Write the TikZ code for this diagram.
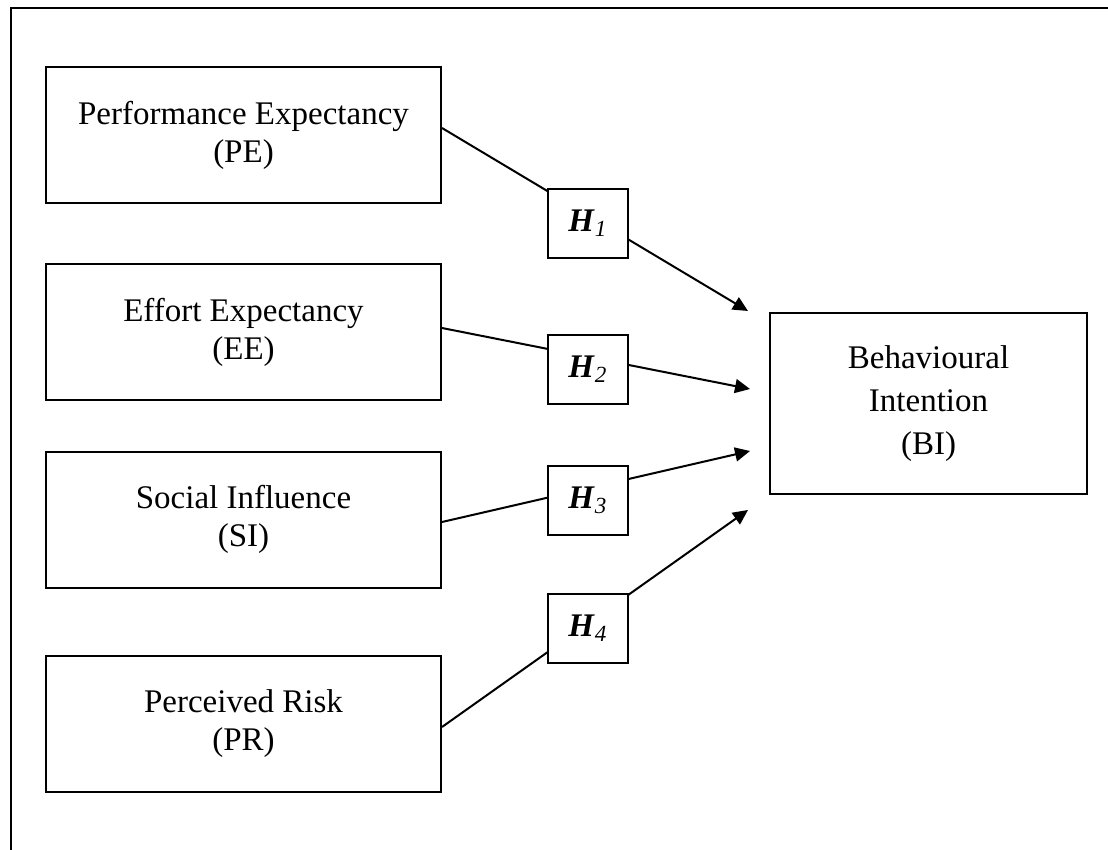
\documentclass[tikz,border=0pt]{standalone}
\usepackage{fontspec}
\setmainfont{Liberation Serif}
\usetikzlibrary{arrows.meta}

\begin{document}
\begin{tikzpicture}[
            x=0.5pt, y=-0.5pt,
            construct/.style={draw=black, line width=1pt, inner sep=0pt, align=center,
                minimum width=197.5pt, minimum height=68pt, font=\fontsize{16.5}{19}\selectfont},
            hyp/.style={draw=black, fill=white, line width=1pt, inner sep=0pt,
                minimum width=40pt, minimum height=34.5pt, font=\fontsize{16.5}{19}\selectfont},
            link/.style={line width=1pt, -{Triangle[length=7.5pt, width=7pt]}},
        ]
            \useasboundingbox (0,0) rectangle (1108,850);

            % page frame (only top and left edges show)
            \draw[line width=1.2pt] (11,850) -- (11,8) -- (1108,8);

            % the four constructs and the outcome
            \node[construct] (pe) at (243.5,135)   {Performance Expectancy\\(PE)};
            \node[construct] (ee) at (243.5,332)   {Effort Expectancy\\(EE)};
            \node[construct] (si) at (243.5,519.5) {Social Influence\\(SI)};
            \node[construct] (pr) at (243.5,723.5) {Perceived Risk\\(PR)};
            \node[construct, minimum width=158.5pt, minimum height=90.5pt,
                font=\fontsize{16.5}{21.5}\selectfont] (bi) at (928.5,403.5)
                {Behavioural\\Intention\\(BI)};

            % arrow tips in front of BI
            \coordinate (t1) at (748,311);
            \coordinate (t2) at (750,389);
            \coordinate (t3) at (750,451);
            \coordinate (t4) at (748,510);

            \draw[link] ([yshift=3.5pt]pe.east) -- (t1);
            \draw[link] ([yshift=2pt]ee.east)   -- (t2);
            \draw[link] ([yshift=-1.25pt]si.east) -- (t3);
            \draw[link] ([yshift=-1.75pt]pr.east) -- (t4);

            % hypothesis boxes sit on the lines
            \node[hyp] (h1) at (588,223.5) {\textbf{\textit{H}}\textsubscript{\textit{1}}};
            \node[hyp] (h2) at (588,369.5) {\textbf{\textit{H}}\textsubscript{\textit{2}}};
            \node[hyp] (h3) at (588,500)   {\textbf{\textit{H}}\textsubscript{\textit{3}}};
            \node[hyp] (h4) at (588,628.5) {\textbf{\textit{H}}\textsubscript{\textit{4}}};
        \end{tikzpicture}
\end{document}
